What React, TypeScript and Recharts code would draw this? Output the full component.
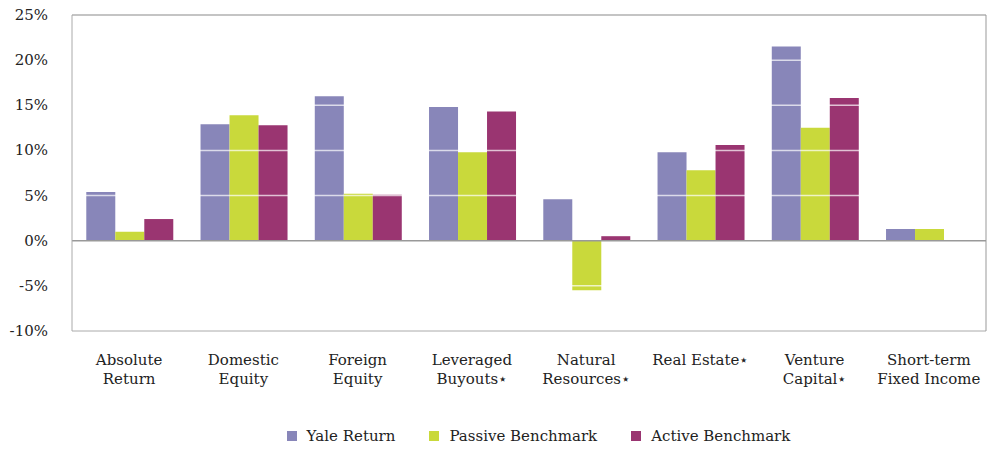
import { BarChart, Bar, XAxis, YAxis, Legend, ReferenceLine } from 'recharts'

const categories = [
  'Absolute|Return',
  'Domestic|Equity',
  'Foreign|Equity',
  'Leveraged|Buyouts*',
  'Natural|Resources*',
  'Real Estate*',
  'Venture|Capital*',
  'Short-term|Fixed Income',
]
const yaleReturn = [5.4, 12.9, 16.0, 14.8, 4.6, 9.8, 21.5, 1.3]
const passiveBenchmark = [1.0, 13.9, 5.2, 9.8, -5.5, 7.8, 12.5, 1.3]
const activeBenchmark = [2.4, 12.8, 5.1, 14.3, 0.5, 10.6, 15.8, null]
const yTicks = [-10, -5, 0, 5, 10, 15, 20, 25]

const seriesNames = ['Yale Return', 'Passive Benchmark', 'Active Benchmark']
const seriesColors = ['#8886b9', '#c9d93b', '#9a3571']

const data = categories.map((c, i) => ({
  name: c,
  yale: yaleReturn[i],
  passive: passiveBenchmark[i],
  active: activeBenchmark[i],
}))

const FONT = 'DejaVu Serif, Liberation Serif, serif'

function CategoryTick(props: any) {
  const { x, y, payload } = props
  const lines = String(payload.value).split('|')
  return (
    <text x={x} y={y} textAnchor="middle" fill="#222" fontSize={15} style={{ fontFamily: FONT }}>
      {lines.map((l, i) => (
        <tspan key={i} x={x} dy={i === 0 ? 26 : 19}>
          {l.replace('*', '\u22c6')}
        </tspan>
      ))}
    </text>
  )
}

function ValueTick(props: any) {
  const { x, y, payload } = props
  return (
    <text x={x} y={y} dy={5} textAnchor="end" fill="#222" fontSize={15} style={{ fontFamily: FONT }}>
      {payload.value}%
    </text>
  )
}

function LegendContent() {
  return (
    <div style={{ display: 'flex', justifyContent: 'center', paddingLeft: 90, fontFamily: FONT, fontSize: 15, color: '#222' }}>
      {seriesNames.map((n, i) => (
        <div key={n} style={{ display: 'flex', alignItems: 'center', margin: '0 17px' }}>
          <span style={{ width: 10, height: 10, background: seriesColors[i], display: 'inline-block', marginRight: 10 }} />
          <span>{n}</span>
        </div>
      ))}
    </div>
  )
}

export default function App() {
  return (
    <div style={{ position: 'absolute', left: 0, top: 0, background: '#fff' }}>
      <BarChart
        width={993}
        height={456}
        data={data}
        margin={{ top: 15, right: 6, bottom: 5, left: 0 }}
        barCategoryGap="12.5%"
        barGap={0}
      >
        <XAxis
          dataKey="name"
          tick={<CategoryTick />}
          tickLine={false}
          axisLine={{ stroke: '#aaa' }}
          height={96}
          interval={0}
        />
        <YAxis
          domain={[-10, 25]}
          ticks={yTicks}
          tick={<ValueTick />}
          tickLine={false}
          tickSize={0}
          tickMargin={24}
          axisLine={{ stroke: '#aaa' }}
          width={72}
        />
        <YAxis
          yAxisId="r"
          orientation="right"
          domain={[-10, 25]}
          ticks={yTicks}
          tick={false}
          tickLine={false}
          axisLine={{ stroke: '#999' }}
          width={1}
        />
        <Legend verticalAlign="bottom" height={24} content={<LegendContent />} />
        <Bar dataKey="yale" name={seriesNames[0]} fill={seriesColors[0]} isAnimationActive={false} />
        <Bar dataKey="passive" name={seriesNames[1]} fill={seriesColors[1]} isAnimationActive={false} />
        <Bar dataKey="active" name={seriesNames[2]} fill={seriesColors[2]} isAnimationActive={false} />
        {[-5, 5, 10, 15, 20].map((v) => (
          <ReferenceLine key={v} y={v} stroke="#fff" strokeOpacity={0.7} strokeWidth={1.5} />
        ))}
        <ReferenceLine y={0} stroke="#999" strokeWidth={1.5} />
        <ReferenceLine y={25} stroke="#c4c4c4" strokeWidth={2} />
      </BarChart>
    </div>
  )
}
